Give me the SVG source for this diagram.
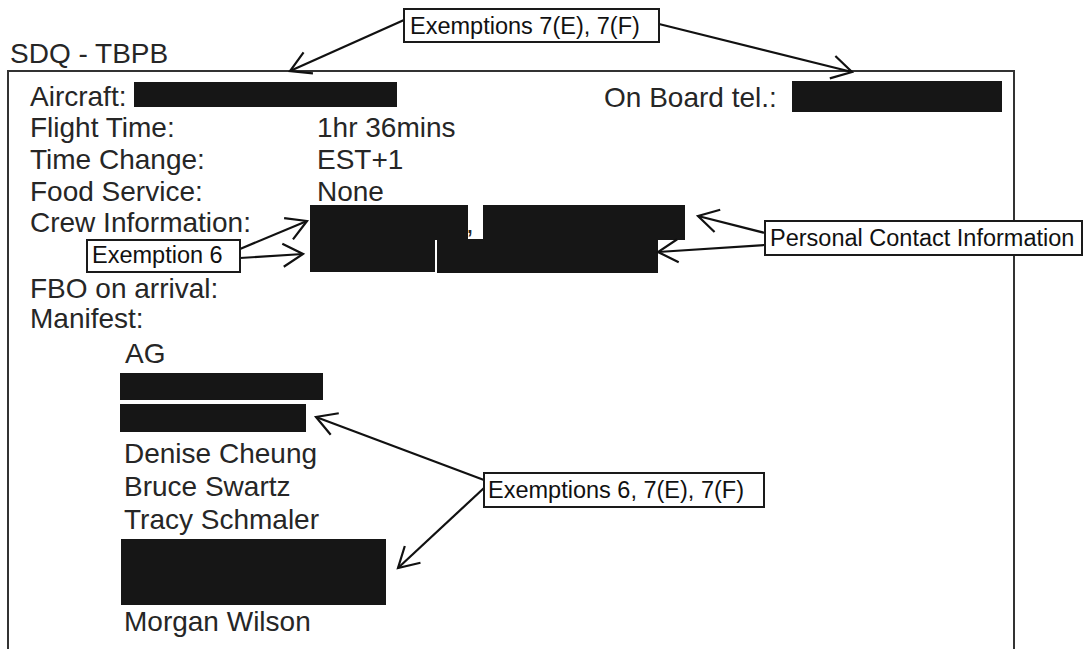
<svg xmlns="http://www.w3.org/2000/svg" width="1084" height="649" viewBox="0 0 1084 649">
<style>
.t{font-family:"Liberation Sans",Arial,sans-serif;font-size:28px;fill:#262626}
.c{font-family:"Liberation Sans",Arial,sans-serif;font-size:23.5px;fill:#111}
.box{fill:#fff;stroke:#1a1a1a;stroke-width:2}
.red{fill:#161616}
.frame{fill:none;stroke:#333;stroke-width:2}
.arr{fill:none;stroke:#111;stroke-width:2.2;marker-end:url(#head)}
</style>
<defs>
<marker id="head" markerUnits="userSpaceOnUse" markerWidth="26" markerHeight="26" viewBox="0 0 26 26" refX="23" refY="13" orient="auto">
<path d="M3,1.5 L23,13 L3,24.5" fill="none" stroke="#111" stroke-width="2.2"/>
</marker>
</defs>
<rect width="1084" height="649" fill="#fff"/>

<g id="title">
<text class="t" x="10" y="63">SDQ - TBPB</text>
</g>

<g id="form">
<path class="frame" d="M8,660 L8,71 L1014,71 L1014,660"/>
<text class="t" x="30" y="106">Aircraft:</text>
<text class="t" x="604" y="107">On Board tel.:</text>
<text class="t" x="30" y="137">Flight Time:</text>
<text class="t" x="317" y="137">1hr 36mins</text>
<text class="t" x="30" y="169">Time Change:</text>
<text class="t" x="317" y="169">EST+1</text>
<text class="t" x="30" y="201">Food Service:</text>
<text class="t" x="317" y="201">None</text>
<text class="t" x="30" y="232">Crew Information:</text>
<text class="t" x="466" y="233">,</text>
<text class="t" x="30" y="298">FBO on arrival:</text>
<text class="t" x="30" y="328">Manifest:</text>
<text class="t" x="125" y="363">AG</text>
<text class="t" x="124" y="463">Denise Cheung</text>
<text class="t" x="124" y="496">Bruce Swartz</text>
<text class="t" x="124" y="529">Tracy Schmaler</text>
<text class="t" x="124" y="631">Morgan Wilson</text>
</g>

<g id="redactions">
<rect class="red" x="134" y="82" width="263" height="25"/>
<rect class="red" x="792" y="81" width="210" height="31"/>
<rect class="red" x="310" y="205" width="158" height="35"/>
<rect class="red" x="483" y="205" width="202" height="35"/>
<rect class="red" x="310" y="239" width="125" height="33"/>
<rect class="red" x="437" y="239" width="221" height="34"/>
<rect class="red" x="120" y="373" width="203" height="27"/>
<rect class="red" x="120" y="404" width="186" height="28"/>
<rect class="red" x="121" y="539" width="265" height="66"/>
</g>

<g id="connectors">
<line class="arr" x1="404" y1="20" x2="290" y2="71"/>
<line class="arr" x1="659" y1="24" x2="852" y2="72"/>
<line class="arr" x1="240" y1="249" x2="307" y2="221"/>
<line class="arr" x1="240" y1="258" x2="303" y2="254"/>
<line class="arr" x1="765" y1="233" x2="698" y2="216"/>
<line class="arr" x1="765" y1="245" x2="658" y2="252"/>
<line class="arr" x1="484" y1="480" x2="316" y2="417"/>
<line class="arr" x1="484" y1="488" x2="398" y2="568"/>
</g>

<g id="callout-7e7f">
<rect class="box" x="404" y="9" width="255" height="33"/>
<text class="c" x="410" y="34">Exemptions 7(E), 7(F)</text>
</g>

<g id="callout-ex6">
<rect class="box" x="87" y="240" width="153" height="32"/>
<text class="c" x="92" y="263">Exemption 6</text>
</g>

<g id="callout-pci">
<rect class="box" x="765" y="221" width="317" height="34"/>
<text class="c" x="770" y="246">Personal Contact Information</text>
</g>

<g id="callout-ex67">
<rect class="box" x="484" y="473" width="280" height="34"/>
<text class="c" x="488" y="498">Exemptions 6, 7(E), 7(F)</text>
</g>
</svg>
